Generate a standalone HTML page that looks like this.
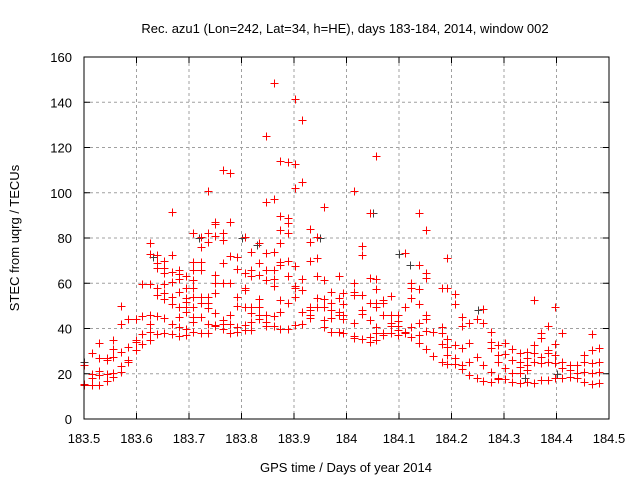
<!DOCTYPE html>
<html><head><meta charset="utf-8"><style>
body{margin:0;background:#fff}
svg{display:block;font-family:"Liberation Sans",Arial,sans-serif}
</style></head><body>
<svg id="chart" width="640" height="480">
<text x="345" y="33" font-size="13" text-anchor="middle">Rec. azu1 (Lon=242, Lat=34, h=HE), days 183-184, 2014, window 002</text>
<text transform="translate(19,238) rotate(-90)" font-size="13" text-anchor="middle">STEC from uqrg / TECUs</text>
<text x="346" y="472" font-size="13" text-anchor="middle">GPS time / Days of year 2014</text>
<g id="grid"></g><g id="axes"></g><g id="black-series" shape-rendering="crispEdges"></g><g id="red-series" shape-rendering="crispEdges"></g>
<rect x="84" y="57" width="525" height="362" fill="none" stroke="#000" stroke-width="1"/>
</svg>
<script>
const xTicks=[183.5,183.6,183.7,183.8,183.9,184,184.1,184.2,184.3,184.4,184.5];
const xTickLabels=["183.5","183.6","183.7","183.8","183.9","184","184.1","184.2","184.3","184.4","184.5"];
const yTicks=[0,20,40,60,80,100,120,140,160];
const groupTimes=[183.5,183.515,183.529,183.543,183.556,183.570,183.584,183.599,183.611,183.625,183.639,183.652,183.668,183.681,183.695,183.708,183.722,183.736,183.749,183.764,183.778,183.791,183.806,183.818,183.833,183.847,183.861,183.873,183.888,183.902,183.916,183.930,183.943,183.958,183.970,183.985,183.993,184.015,184.029,184.044,184.057,184.07,184.084,184.098,184.111,184.123,184.1375,184.152,184.165,184.181,184.192,184.206,184.22,184.2325,184.248,184.26,184.275,184.289,184.3025,184.315,184.33,184.344,184.3575,184.37,184.384,184.398,184.41,184.425,184.439,184.4525,184.467,184.481];
const groupValues=[
[24,15.5,15],[29,20,18,15],[33.6,27,21,19.5,15],[27,26,20,17],[35,31,27.6,20.4,18.6],[50,42,29.6,23.4,20.8],[44,31.8,26,25],[44,35,30.5,34],[59.7,45.5,37.6,33],[78,73,59.6,46,42,38.5,35],[72.5,69,66.7,58,55,45.5,37.6],[70,66.7,64.5,59.6,55.7,53,44.6,38],[91.5,72.5,65,60.5,54,51,42,37.6],
[66,64,62,56,49.6,45,40.7,36.7],[63,58,53.5,51.8,49.6,47.3,40,37],[82,69.4,66,61.5,58,54,49.6,45,43,38.5],[80.4,76,69.4,66,54,51.3,45,38],[100.8,82,78.2,54,51.3,49,42,38],[87,86,81,63.6,60,55.7,46.8,41.5,41],[110,82,79,69,60,43.8,42,40],[108.7,87,72,60,46,42,38],[71.6,66.3,54,50,40.7,38.5],[80.4,64.5,58,57,49.6,41.5,39.4],[73.8,66,63,49.6,46.8,43,39.4],[78,69,63.6,53,49.6,46,44],[125,96,73.4,66,61.5,46,43,41],[148.5,97.2,73.8,66,62,58.8,45.5,41],[114,89.7,83.5,78,69.4,68,52.6,47.3,39.8],[113.6,89,86.6,82,70,63,51.3,40],[141.4,112.7,102,67.6,59,58,54,41.5],[132,104.8,62,57,47.3,42],[84,78.2,70,49.6,48,46,44.6],[80.4,71,63.2,53.5,49.6],[93.7,61.5,53,49.6,43.8,40.7],[56,51.3,48,44.6,38.5],[63,53.5,47.3,46,38.5],[55.7,51,46,44,38],
[100.8,60,56,55,42.4,36.7,36],[76.5,72.5,55,48,46.4,35.4],[91,62.3,51.3,43.8,36.3,34],[116.2,61.9,57.5,51.3,49.6,40.7,38,35],[52.6,51.3,46,38,37],[54.4,46,42.4,41,38],[46,43.3,41,39.4,37],[73.4,49.6,38.5,38],[60,58,53.5,40.7,36.3],[91,68,57.5,50.9,42.4,37,33.6],[83.5,64.5,62.3,46,44,39,31],[38.5,27.9],[58,40.7,38,33,25.2],[71,58,35.4,31.8,28.3,24.3],[55.3,50.9,32.7,27,24.3],[45,41,31.4,23.9,22],[42.4,33.6,25.2,19.5],[44,27.4,18],[48.6,42.4,23.9,16.8],[38.5,34,31.4,20.8,16.4],[32.7,28.3,25.2,18,17.5],[33.6,28.7,22.5,17.7],[31,26,20.4,16.4],[29,25.2,23,20.4,16],[29.6,27,23.9,21.7,16.4],[52.6,32.7,29,25.2,16],[38,35.8,27.4,24.8,17.2],[41,30.5,29,25.2,17.2],[49.6,33,28.3,24.8,18],[38,25.2,22.5,18],[23.9,21.7,18.6],[23.9,20.4,18],[28.3,25.2,20.8,16.4],[37.6,30.5,24.8,20.4,15.5],[31.4,25.2,20.8,16]];
const blackTimes=[183.5,183.631,183.72,183.80,183.83,183.95,184.05,184.1,184.12,184.25,184.34,184.4];
const blackValues=[25,71.6,80,80,77,80,91,73,68,48,18,20];

const X0=84,X1=609,Y0=419,Y1=57;
const xs=t=>X0+(t-183.5)/(1.0)*(X1-X0);
const ys=v=>Y0-v/160*(Y0-Y1);
const NS="http://www.w3.org/2000/svg";
function mk(tag,attrs,parent){const e=document.createElementNS(NS,tag);for(const k in attrs)e.setAttribute(k,attrs[k]);parent.appendChild(e);return e;}
const grid=document.getElementById('grid'),axes=document.getElementById('axes');
xTicks.forEach((t,i)=>{const x=xs(t);
 if(i>0&&i<xTicks.length-1){const g=mk('line',{x1:x,x2:x,y1:Y1,y2:Y0,stroke:'#a0a0a0','stroke-dasharray':'3,3'},grid);
 
 }
 mk('line',{x1:x,x2:x,y1:Y0,y2:Y0-6,stroke:'#000'},axes);
 mk('line',{x1:x,x2:x,y1:Y1,y2:Y1+6,stroke:'#000'},axes);
 const tx=mk('text',{x:x,y:443,'font-size':13,'text-anchor':'middle'},axes);tx.textContent=xTickLabels[i];
 
 
});
yTicks.forEach((v,i)=>{const y=ys(v);
 if(i>0&&i<yTicks.length-1){const g=mk('line',{x1:X0,x2:X1,y1:y,y2:y,stroke:'#a0a0a0','stroke-dasharray':'3,3'},grid);
 
 }
 mk('line',{x1:X0,x2:X0+6,y1:y,y2:y,stroke:'#000'},axes);
 mk('line',{x1:X1,x2:X1-6,y1:y,y2:y,stroke:'#000'},axes);
 const tx=mk('text',{x:72,y:y+5,'font-size':13,'text-anchor':'end'},axes);tx.textContent=String(v);
 
 
});
function plus(parent,t,v,color){const x=Math.round(xs(t))+0.5,y=Math.round(ys(v))+0.5;
 const p=mk('path',{d:`M${x-4},${y}H${x+4}M${x},${y-4}V${y+4}`,stroke:color,'stroke-width':1,fill:'none'},parent);
 return p;}
const bl=document.getElementById('black-series');
blackTimes.forEach((t,i)=>{const p=plus(bl,t,blackValues[i],'#404040');
 
 });
const rd=document.getElementById('red-series');
groupTimes.forEach((t,i)=>{groupValues[i].forEach(v=>{const p=plus(rd,t,v,'#ff0000');
 
 });});
</script>
</body></html>
